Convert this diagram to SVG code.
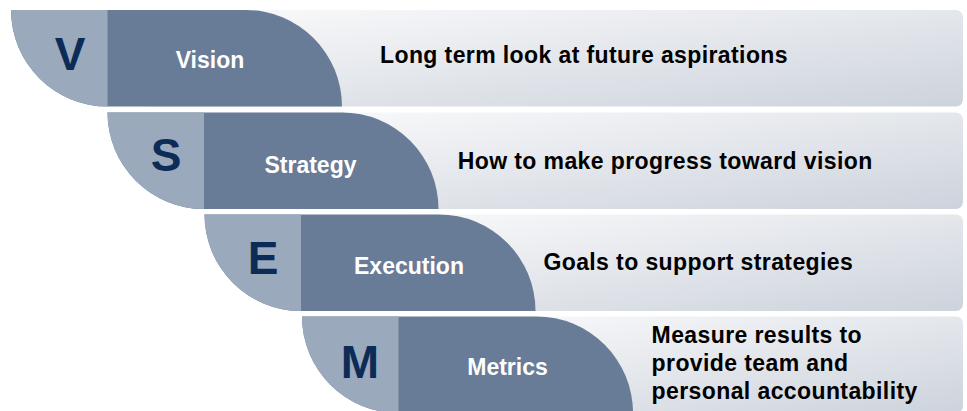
<svg xmlns="http://www.w3.org/2000/svg" width="967" height="411" viewBox="0 0 967 411">
  <defs>
    <linearGradient id="bg" x1="0" y1="0" x2="1" y2="1">
      <stop offset="0" stop-color="#fbfbfc"/>
      <stop offset="1" stop-color="#cdd3dc"/>
    </linearGradient>
    <style>
      .band { fill: url(#bg); }
      .dark { fill: #687c97; }
      .light { fill: #9aa9bc; }
      .letter { font-family: "Liberation Sans", Arial, sans-serif; font-weight: bold; font-size: 46px; fill: #0d2b57; text-anchor: middle; }
      .label { font-family: "Liberation Sans", Arial, sans-serif; font-weight: bold; font-size: 23px; fill: #ffffff; text-anchor: middle; }
      .desc { font-family: "Liberation Sans", Arial, sans-serif; font-weight: bold; font-size: 23px; fill: #000000; letter-spacing: 0.4px; }
    </style>
  </defs>
  <rect width="967" height="411" fill="#ffffff"/>

  <g id="node-vision">
    <rect class="band" x="140" y="10" width="823" height="96.5" rx="7"/>
    <path class="dark" d="M11 10 H245.5 A96.5 96.5 0 0 1 342 106.5 H107.5 A96.5 96.5 0 0 1 11 10 Z"/>
    <path class="light" d="M11 10 H107.5 V106.5 A96.5 96.5 0 0 1 11 10 Z"/>
    <text class="letter" x="70" y="70">V</text>
    <text class="label" x="210" y="67.5">Vision</text>
    <text class="desc" x="380" y="62.5">Long term look at future aspirations</text>
  </g>

  <g id="node-strategy">
    <rect class="band" x="236.5" y="112.5" width="726.5" height="96.5" rx="7"/>
    <path class="dark" d="M107.5 112.5 H342 A96.5 96.5 0 0 1 438.5 209 H204 A96.5 96.5 0 0 1 107.5 112.5 Z"/>
    <path class="light" d="M107.5 112.5 H204 V209 A96.5 96.5 0 0 1 107.5 112.5 Z"/>
    <text class="letter" x="166" y="171">S</text>
    <text class="label" x="310.5" y="172.5">Strategy</text>
    <text class="desc" x="457.7" y="168.5">How to make progress toward vision</text>
  </g>

  <g id="node-execution">
    <rect class="band" x="333.5" y="214.5" width="629.5" height="96.5" rx="7"/>
    <path class="dark" d="M204.5 214.5 H439 A96.5 96.5 0 0 1 535.5 311 H301 A96.5 96.5 0 0 1 204.5 214.5 Z"/>
    <path class="light" d="M204.5 214.5 H301 V311 A96.5 96.5 0 0 1 204.5 214.5 Z"/>
    <text class="letter" x="263" y="273.5">E</text>
    <text class="label" x="409" y="273.5">Execution</text>
    <text class="desc" x="543.4" y="269.5">Goals to support strategies</text>
  </g>

  <g id="node-metrics">
    <rect class="band" x="431" y="316.5" width="532" height="96.5" rx="7"/>
    <path class="dark" d="M302 316.5 H536.5 A96.5 96.5 0 0 1 633 413 H398.5 A96.5 96.5 0 0 1 302 316.5 Z"/>
    <path class="light" d="M302 316.5 H398.5 V413 A96.5 96.5 0 0 1 302 316.5 Z"/>
    <text class="letter" x="360" y="377.5">M</text>
    <text class="label" x="507.5" y="375">Metrics</text>
    <text class="desc" x="651.6" y="342.5">Measure results to</text>
    <text class="desc" x="651.6" y="370.5">provide team and</text>
    <text class="desc" x="651.6" y="398.5">personal accountability</text>
  </g>
</svg>
